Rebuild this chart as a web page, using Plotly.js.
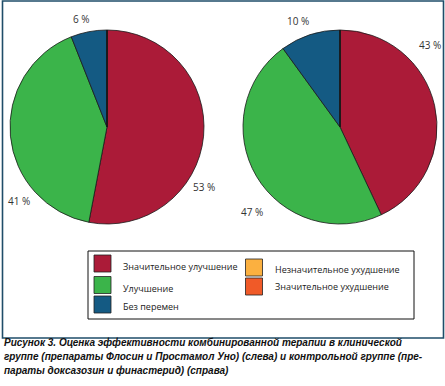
<!DOCTYPE html>
<html><head><meta charset="utf-8">
<script src="https://cdn.plot.ly/plotly-3.0.1.min.js"></script>
<style>html,body{margin:0;padding:0;background:#fff}#chart{width:445px;height:386px}</style>
</head><body><div id="chart"></div>
<script>
// ---- data ----
const categories = ["Значительное улучшение", "Улучшение", "Без перемен", "Незначительное ухудшение", "Значительное ухудшение"];
const colors = ["#ab1b38", "#3bb44a", "#145a83", "#fbb040", "#f05a28"];
const leftValues = [53, 41, 6, 0, 0];
const rightValues = [43, 47, 10, 0, 0];
const captionLines = [
  "Рисунок 3. Оценка эффективности комбинированной терапии в клинической",
  "группе (препараты Флосин и Простамол Уно) (слева) и контрольной группе (пре-",
  "параты доксазозин и финастерид) (справа)"
];

const W = 445, H = 386;
const px = x => x / W;
const py = y => 1 - y / H;

function pieTrace(values, cx, cy, r) {
  return {
    type: "pie", labels: categories, values: values, sort: false,
    direction: "clockwise", rotation: 0, textinfo: "none", hoverinfo: "label+percent",
    marker: { colors: colors, line: { color: "#1a1a1a", width: 0.8 } },
    domain: { x: [px(cx - r), px(cx + r)], y: [py(cy + r), py(cy - r)] },
    showlegend: false
  };
}

const traces = [pieTrace(leftValues, 107, 127, 97), pieTrace(rightValues, 340, 127, 97)];

// label positions (pixels) for the first three slices of each pie
const leftLabelPos = [[204, 187], [19, 201], [81, 19]];
const rightLabelPos = [[430, 45], [252, 212], [298, 21]];

const annotations = [];
const labFont = { family: "Open Sans, Noto Sans, sans-serif", size: 10, color: "#333" };
leftLabelPos.forEach((p, i) => annotations.push({ xref: "paper", yref: "paper", x: px(p[0]), y: py(p[1]), text: leftValues[i] + " %", showarrow: false, font: labFont, xanchor: "center", yanchor: "middle" }));
rightLabelPos.forEach((p, i) => annotations.push({ xref: "paper", yref: "paper", x: px(p[0]), y: py(p[1]), text: rightValues[i] + " %", showarrow: false, font: labFont, xanchor: "center", yanchor: "middle" }));

// custom legend
const shapes = [
  { type: "rect", xref: "paper", yref: "paper", x0: px(2.5), x1: px(443.5), y0: py(338), y1: py(1), line: { color: "#1f4d69", width: 1.6 } },
  { type: "rect", xref: "paper", yref: "paper", x0: px(88), x1: px(414), y0: py(319), y1: py(251), line: { color: "#111", width: 1 } }
];
const legPos = [[94, 255, 121, 266], [94, 276.5, 121, 288], [94, 296, 121, 306], [245.5, 259, 273, 269], [245.5, 278, 273, 286]];
const legFont = { family: "Open Sans, Noto Sans, sans-serif", size: 9, color: "#222" };
categories.forEach((c, i) => {
  const p = legPos[i];
  shapes.push({ type: "rect", xref: "paper", yref: "paper", x0: px(p[0]), x1: px(p[0] + 17), y0: py(p[1] + 17), y1: py(p[1]), fillcolor: colors[i], line: { color: "#222", width: 0.8 } });
  annotations.push({ xref: "paper", yref: "paper", x: px(p[2]), y: py(p[3]), text: c, showarrow: false, font: legFont, xanchor: "left", yanchor: "middle" });
});

const capY = [342, 356, 370];
captionLines.forEach((t, i) => annotations.push({ xref: "paper", yref: "paper", x: px(2), y: py(capY[i]), text: "<b><i>" + t + "</i></b>", showarrow: false, align: "left", xanchor: "left", yanchor: "middle", font: { family: "Liberation Sans, Arial, sans-serif", size: 10, color: "#111" } }));

Plotly.newPlot("chart", traces, {
  width: W, height: H, margin: { l: 0, r: 0, t: 0, b: 0 },
  paper_bgcolor: "#fff", showlegend: false, shapes: shapes, annotations: annotations
}, { displayModeBar: false, staticPlot: true });
</script></body></html>
